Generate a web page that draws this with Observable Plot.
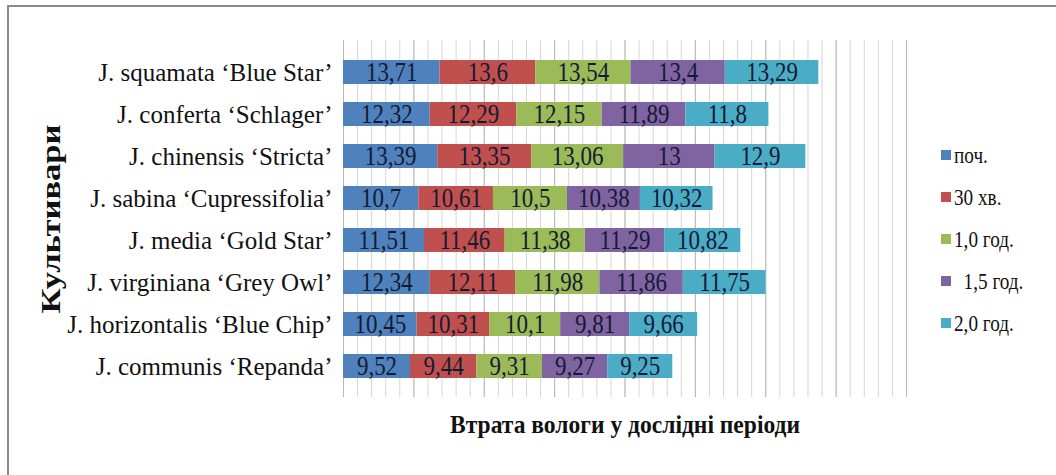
<!DOCTYPE html>
<html>
<head>
<meta charset="utf-8">
<script src="https://cdn.jsdelivr.net/npm/d3@7"></script>
<script src="https://cdn.jsdelivr.net/npm/@observablehq/plot@0.6"></script>
<style>
  html, body { margin: 0; padding: 0; background: #fff; }
  #wrap { position: relative; width: 1056px; height: 475px; overflow: hidden;
          font-family: 'Liberation Serif', 'DejaVu Serif', serif; background: #fff; }
  #frame { position: absolute; left: 7px; top: 5px; width: 1200px; height: 600px;
           border-top: 2px solid #8a8a8a; border-left: 2px solid #8a8a8a; }
  #chart { position: absolute; left: 0; top: 0; }
  #chart svg text { font-family: 'Liberation Serif', 'DejaVu Serif', serif; }
  #legend { position: absolute; left: 941px; top: 134px; }
  .item { height: 42px; display: flex; align-items: center; white-space: pre; }
  .sw { width: 10px; height: 10px; flex: none; }
  .lab { font-family: 'Liberation Serif', 'DejaVu Serif', serif; font-size: 24px; color: #111;
         margin-left: 3px; display: inline-block; line-height: 1;
         transform: scaleX(0.8); transform-origin: left center; }
</style>
</head>
<body>
<div id="wrap"><div id="frame"></div><div id="chart"></div><div id="legend"></div></div>
<script>
const cultivars = [
  "J. squamata ‘Blue Star’",
  "J. conferta ‘Schlager’",
  "J. chinensis ‘Stricta’",
  "J. sabina ‘Cupressifolia’",
  "J. media ‘Gold Star’",
  "J. virginiana ‘Grey Owl’",
  "J. horizontalis ‘Blue Chip’",
  "J. communis ‘Repanda’"
];
const series = ["поч.", "30 хв.", "1,0 год.", "  1,5 год.", "2,0 год."];
const colors = ["#4f81bd", "#c0504d", "#9bbb59", "#8064a2", "#4bacc6"];
const poch = [13.71, 12.32, 13.39, 10.7, 11.51, 12.34, 10.45, 9.52];
const min30 = [13.6, 12.29, 13.35, 10.61, 11.46, 12.11, 10.31, 9.44];
const hour10 = [13.54, 12.15, 13.06, 10.5, 11.38, 11.98, 10.1, 9.31];
const hour15 = [13.4, 11.89, 13, 10.38, 11.29, 11.86, 9.81, 9.27];
const hour20 = [13.29, 11.8, 12.9, 10.32, 10.82, 11.75, 9.66, 9.25];
const xTitle = "Втрата вологи у дослідні періоди";
const yTitle = "Культивари";

const seriesValues = [poch, min30, hour10, hour15, hour20];
const data = [];
cultivars.forEach((c, i) => {
  series.forEach((s, j) => data.push({cultivar: c, series: s, value: seriesValues[j][i]}));
});
const fmt = v => String(v).replace(".", ",");
const serif = "'Liberation Serif', 'DejaVu Serif', serif";

const chart = Plot.plot({
  width: 1056,
  height: 475,
  marginLeft: 343,
  marginRight: 150,
  marginTop: 40,
  marginBottom: 78,
  style: {fontFamily: serif, background: "transparent", color: "#111"},
  x: {domain: [0, 80], axis: null},
  y: {domain: cultivars, padding: 0.44, axis: null},
  color: {domain: series, range: colors},
  marks: [
    Plot.ruleX(d3.range(0, 81, 2), {stroke: "#d6d6d6", strokeWidth: 1}),
    Plot.ruleX(d3.range(0, 81, 10), {stroke: "#b8b8b8", strokeWidth: 1}),
    Plot.barX(data, Plot.stackX({x: "value", y: "cultivar", fill: "series", z: "series"})),
    Plot.text(data, Plot.stackX({x: "value", y: "cultivar", z: "series", text: d => fmt(d.value),
      fill: "#151a33", fontSize: 28, fontFamily: serif, className: "val"})),
    Plot.axisY({tickSize: 0, tickPadding: 11, fontSize: 25, fontFamily: serif, fill: "#111", label: null, className: "ytick"}),
    Plot.text([xTitle], {frameAnchor: "bottom", dy: 35, fontSize: 25, fontWeight: "bold", fontFamily: serif, fill: "#111", className: "xtitle"}),
    Plot.text([yTitle], {frameAnchor: "left", textAnchor: "middle", dx: -292, rotate: -90, fontSize: 28, fontWeight: "bold", fontFamily: serif, fill: "#111", className: "ytitle"})
  ]
});
document.getElementById("chart").appendChild(chart);

function squeeze(selector, f) {
  d3.select(chart).selectAll(selector).each(function () {
    const L = this.getComputedTextLength();
    if (L > 0) {
      this.setAttribute("textLength", (L * f).toFixed(1));
      this.setAttribute("lengthAdjust", "spacingAndGlyphs");
    }
  });
}
function fitTo(selector, w) {
  d3.select(chart).selectAll(selector).each(function () {
    this.setAttribute("textLength", w);
    this.setAttribute("lengthAdjust", "spacingAndGlyphs");
  });
}
squeeze(".val text", 0.82);
fitTo(".xtitle text", 350);
fitTo(".ytitle text", 189);

const legend = d3.select("#legend");
series.forEach((s, i) => {
  const it = legend.append("div").attr("class", "item");
  it.append("div").attr("class", "sw").style("background", colors[i]);
  it.append("span").attr("class", "lab").text(s);
});
</script>
</body>
</html>
